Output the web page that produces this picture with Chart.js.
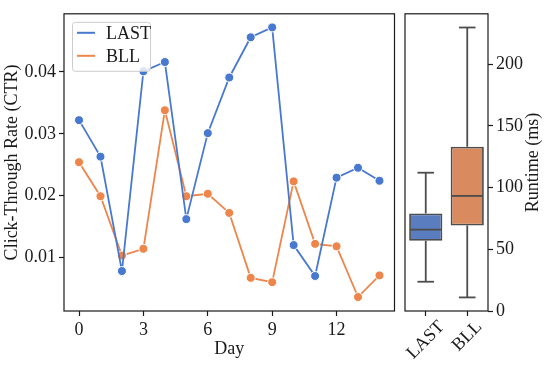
<!DOCTYPE html>
<html lang="en">
<head>
<meta charset="UTF-8" />
<title>CTR per day and runtime</title>
<script src="https://cdn.jsdelivr.net/npm/chart.js"></script>
<style>
  body { margin: 0; background: white; }
  #wrap { position: relative; width: 548px; height: 366px; }
  canvas { position: absolute; top: 0; }
  #ctrChart { left: 0; }
  #runChart { left: 400px; }
</style>
</head>
<body>
<div id="wrap">
  <canvas id="ctrChart" width="400" height="366"></canvas>
  <canvas id="runChart" width="148" height="366"></canvas>
</div>
<script>
// left panel: daily click-through rate
const days = [0, 1, 2, 3, 4, 5, 6, 7, 8, 9, 10, 11, 12, 13, 14];
const ctrLast = [0.0322, 0.0263, 0.0078, 0.0401, 0.0416, 0.0162, 0.0301, 0.0391, 0.0456, 0.0472, 0.0120, 0.0070, 0.0229, 0.0245, 0.0224];
const ctrBll = [0.0254, 0.0199, 0.0103, 0.0114, 0.0338, 0.0199, 0.0203, 0.0172, 0.0067, 0.0060, 0.0223, 0.0122, 0.0118, 0.0036, 0.0071];
const dayTicks = [0, 3, 6, 9, 12];
const ctrTicks = [0.01, 0.02, 0.03, 0.04];

// right panel: runtime box plot
const methods = ['LAST', 'BLL'];
const runLow = [23.7, 11];
const runQ1 = [56.9, 69.3];
const runMedian = [65.9, 93.2];
const runQ3 = [79, 133];
const runHigh = [112, 229.6];
const runTicks = [0, 50, 100, 150, 200];

const FONT = "'Liberation Serif', 'DejaVu Serif', serif";
const FSIZE = 18;
const INK = '#1a1a1a';
Chart.defaults.font.family = FONT;
Chart.defaults.font.size = FSIZE;
Chart.defaults.color = INK;
Chart.defaults.animation = false;

const frame = {
  id: 'frame',
  afterDraw(chart) {
    const a = chart.chartArea, ctx = chart.ctx;
    ctx.save();
    ctx.strokeStyle = INK;
    ctx.lineWidth = 1.2;
    ctx.strokeRect(a.left, a.top, a.right - a.left, a.bottom - a.top);
    ctx.restore();
  }
};

const insideLegend = {
  id: 'insideLegend',
  afterDatasetsDraw(chart) {
    const ctx = chart.ctx, a = chart.chartArea;
    const x = a.left + 8, y = a.top + 8, w = 78, h = 49;
    ctx.save();
    ctx.fillStyle = 'rgba(255,255,255,0.8)';
    ctx.strokeStyle = '#cccccc';
    ctx.lineWidth = 1;
    ctx.beginPath();
    ctx.roundRect(x + 0.5, y + 0.5, w, h, 3);
    ctx.fill();
    ctx.stroke();
    ctx.font = FSIZE + 'px ' + FONT;
    ctx.textBaseline = 'middle';
    chart.data.datasets.forEach((ds, i) => {
      const cy = y + 11 + i * 23;
      ctx.strokeStyle = ds.borderColor;
      ctx.lineWidth = 2;
      ctx.beginPath();
      ctx.moveTo(x + 5, cy);
      ctx.lineTo(x + 23, cy);
      ctx.stroke();
      ctx.fillStyle = INK;
      ctx.fillText(ds.label, x + 34, cy + 1);
    });
    ctx.restore();
  }
};

const tickStyle = { drawOnChartArea: false, drawTicks: true, tickLength: 5, tickColor: INK, tickWidth: 1.2 };

new Chart(document.getElementById('ctrChart'), {
  type: 'line',
  data: {
    datasets: [
      { label: 'LAST', data: days.map((d, i) => ({ x: d, y: ctrLast[i] })), borderColor: '#4878d0', backgroundColor: '#4878d0' },
      { label: 'BLL', data: days.map((d, i) => ({ x: d, y: ctrBll[i] })), borderColor: '#ee854a', backgroundColor: '#ee854a' }
    ]
  },
  options: {
    responsive: false,
    devicePixelRatio: 1,
    layout: { padding: { top: 6, right: 5, left: 0, bottom: 0 } },
    elements: {
      line: { borderWidth: 1.8, tension: 0 },
      point: { radius: 4.5, borderWidth: 1, borderColor: '#ffffff' }
    },
    datasets: { line: { pointBorderColor: '#ffffff' } },
    plugins: { legend: { display: false }, tooltip: { enabled: false } },
    scales: {
      x: {
        type: 'linear', min: -0.7, max: 14.7,
        grid: tickStyle, border: { display: false },
        afterBuildTicks: s => { s.ticks = dayTicks.map(v => ({ value: v })); },
        afterFit: s => { s.height = 55; },
        ticks: { padding: 3, maxRotation: 0, callback: v => String(v) },
        title: { display: true, text: 'Day', padding: { top: 0, bottom: 6 } }
      },
      y: {
        min: 0.00134, max: 0.0494,
        grid: tickStyle, border: { display: false },
        afterBuildTicks: s => { s.ticks = ctrTicks.map(v => ({ value: v })); },
        afterFit: s => { s.width = 64; },
        ticks: { padding: 3, callback: v => v.toFixed(2) },
        title: { display: true, text: 'Click-Through Rate (CTR)', padding: { top: 1, bottom: 0 } }
      }
    }
  },
  plugins: [frame, insideLegend]
});

const boxParts = {
  id: 'boxParts',
  afterDatasetsDraw(chart) {
    const ctx = chart.ctx, y = chart.scales.y;
    const bars = chart.getDatasetMeta(0).data;
    const line = (x1, y1, x2, y2) => { ctx.beginPath(); ctx.moveTo(x1, y1); ctx.lineTo(x2, y2); ctx.stroke(); };
    ctx.save();
    ctx.strokeStyle = '#4d4d4d';
    ctx.lineWidth = 1.8;
    bars.forEach((bar, i) => {
      const cx = bar.x, half = bar.width / 2, cap = bar.width / 4;
      const hi = y.getPixelForValue(runHigh[i]), lo = y.getPixelForValue(runLow[i]);
      line(cx, y.getPixelForValue(runQ3[i]), cx, hi);
      line(cx, y.getPixelForValue(runQ1[i]), cx, lo);
      line(cx - cap, hi, cx + cap, hi);
      line(cx - cap, lo, cx + cap, lo);
      const m = y.getPixelForValue(runMedian[i]);
      line(cx - half + 1, m, cx + half - 1, m);
    });
    ctx.restore();
  }
};

// rotated category labels and right-hand axis title, matplotlib style
const sideText = {
  id: 'sideText',
  afterDraw(chart) {
    const ctx = chart.ctx, x = chart.scales.x, a = chart.chartArea;
    ctx.save();
    ctx.font = FSIZE + 'px ' + FONT;
    ctx.fillStyle = INK;
    ctx.textAlign = 'center';
    ctx.textBaseline = 'middle';
    methods.forEach((m, i) => {
      const w = ctx.measureText(m).width;
      const boxH = (w + 12) * Math.SQRT1_2;
      ctx.save();
      ctx.translate(x.getPixelForValue(i), a.bottom + 9 + boxH / 2);
      ctx.rotate(-Math.PI / 4);
      ctx.fillText(m, 0, 0);
      ctx.restore();
    });
    ctx.translate(133, (a.top + a.bottom) / 2);
    ctx.rotate(-Math.PI / 2);
    ctx.fillText('Runtime (ms)', 0, 0);
    ctx.restore();
  }
};

new Chart(document.getElementById('runChart'), {
  type: 'bar',
  data: {
    labels: methods,
    datasets: [{
      data: runQ1.map((v, i) => [v, runQ3[i]]),
      backgroundColor: ['#597dbf', '#d98b5f'],
      borderColor: '#4d4d4d',
      borderWidth: 1.8,
      borderSkipped: false,
      barPercentage: 0.8,
      categoryPercentage: 1
    }]
  },
  options: {
    responsive: false,
    devicePixelRatio: 1,
    layout: { padding: { top: 6, left: 5, right: 0, bottom: 0 } },
    plugins: { legend: { display: false }, tooltip: { enabled: false } },
    scales: {
      x: {
        grid: Object.assign({}, tickStyle, { offset: false }),
        border: { display: false },
        ticks: { display: false },
        afterFit: s => { s.height = 55; }
      },
      y: {
        position: 'right', min: 0, max: 240.7,
        grid: tickStyle, border: { display: false },
        afterBuildTicks: s => { s.ticks = runTicks.map(v => ({ value: v })); },
        afterFit: s => { s.width = 60; },
        ticks: { padding: 3, callback: v => String(v) }
      }
    }
  },
  plugins: [frame, boxParts, sideText]
});
</script>
</body>
</html>
